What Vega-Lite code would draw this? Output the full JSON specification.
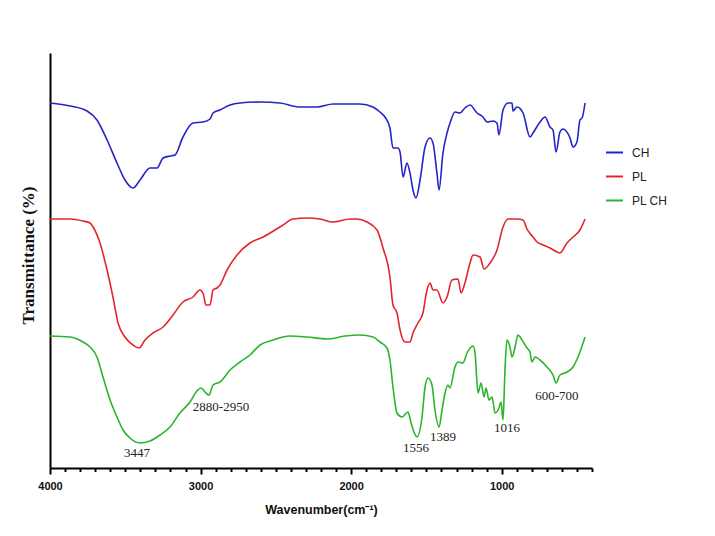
{
  "$schema": "https://vega.github.io/schema/vega-lite/v6.json",
  "width": 542,
  "height": 415,
  "autosize": "none",
  "padding": {"left": 50, "top": 53, "right": 123, "bottom": 68},
  "background": "white",
  "config": {"view": {"stroke": null}, "axis": {"labelOverlap": false}},
  "datasets": {
    "spectra": [
      {"series":"CH","wn":4000,"T":365},{"series":"CH","wn":3867,"T":362},{"series":"CH","wn":3754,"T":357},{"series":"CH","wn":3688,"T":348},{"series":"CH","wn":3621,"T":328},{"series":"CH","wn":3555,"T":305},{"series":"CH","wn":3502,"T":288},{"series":"CH","wn":3449,"T":280},{"series":"CH","wn":3402,"T":288},{"series":"CH","wn":3336,"T":300},{"series":"CH","wn":3289,"T":300},{"series":"CH","wn":3249,"T":310},{"series":"CH","wn":3203,"T":312},{"series":"CH","wn":3170,"T":313},{"series":"CH","wn":3117,"T":331},{"series":"CH","wn":3050,"T":345},{"series":"CH","wn":2984,"T":346},{"series":"CH","wn":2937,"T":349},{"series":"CH","wn":2917,"T":355},{"series":"CH","wn":2871,"T":358},{"series":"CH","wn":2804,"T":363},{"series":"CH","wn":2738,"T":365},{"series":"CH","wn":2605,"T":366},{"series":"CH","wn":2472,"T":365},{"series":"CH","wn":2340,"T":361},{"series":"CH","wn":2227,"T":361},{"series":"CH","wn":2120,"T":364},{"series":"CH","wn":2074,"T":364},{"series":"CH","wn":1941,"T":364},{"series":"CH","wn":1855,"T":361},{"series":"CH","wn":1808,"T":356},{"series":"CH","wn":1775,"T":351},{"series":"CH","wn":1742,"T":340},{"series":"CH","wn":1722,"T":320},{"series":"CH","wn":1689,"T":320},{"series":"CH","wn":1675,"T":316},{"series":"CH","wn":1655,"T":291},{"series":"CH","wn":1629,"T":305},{"series":"CH","wn":1609,"T":295},{"series":"CH","wn":1589,"T":278},{"series":"CH","wn":1569,"T":270},{"series":"CH","wn":1542,"T":288},{"series":"CH","wn":1509,"T":321},{"series":"CH","wn":1476,"T":330},{"series":"CH","wn":1456,"T":325},{"series":"CH","wn":1430,"T":295},{"series":"CH","wn":1416,"T":278},{"series":"CH","wn":1390,"T":315},{"series":"CH","wn":1363,"T":335},{"series":"CH","wn":1343,"T":345},{"series":"CH","wn":1310,"T":356},{"series":"CH","wn":1277,"T":355},{"series":"CH","wn":1244,"T":360},{"series":"CH","wn":1210,"T":363},{"series":"CH","wn":1164,"T":355},{"series":"CH","wn":1124,"T":351},{"series":"CH","wn":1097,"T":346},{"series":"CH","wn":1058,"T":347},{"series":"CH","wn":1031,"T":345},{"series":"CH","wn":1018,"T":333},{"series":"CH","wn":991,"T":358},{"series":"CH","wn":958,"T":365},{"series":"CH","wn":931,"T":365},{"series":"CH","wn":925,"T":357},{"series":"CH","wn":898,"T":361},{"series":"CH","wn":858,"T":355},{"series":"CH","wn":812,"T":331},{"series":"CH","wn":792,"T":335},{"series":"CH","wn":745,"T":346},{"series":"CH","wn":712,"T":351},{"series":"CH","wn":679,"T":341},{"series":"CH","wn":659,"T":338},{"series":"CH","wn":639,"T":316},{"series":"CH","wn":613,"T":336},{"series":"CH","wn":593,"T":339},{"series":"CH","wn":546,"T":330},{"series":"CH","wn":526,"T":321},{"series":"CH","wn":500,"T":326},{"series":"CH","wn":480,"T":348},{"series":"CH","wn":466,"T":350},{"series":"CH","wn":446,"T":365},
      {"series":"PL","wn":4000,"T":249},{"series":"PL","wn":3867,"T":249},{"series":"PL","wn":3781,"T":247},{"series":"PL","wn":3734,"T":245},{"series":"PL","wn":3714,"T":241},{"series":"PL","wn":3668,"T":225},{"series":"PL","wn":3621,"T":198},{"series":"PL","wn":3582,"T":171},{"series":"PL","wn":3548,"T":145},{"series":"PL","wn":3502,"T":131},{"series":"PL","wn":3449,"T":123},{"series":"PL","wn":3409,"T":120},{"series":"PL","wn":3369,"T":128},{"series":"PL","wn":3316,"T":135},{"series":"PL","wn":3249,"T":141},{"series":"PL","wn":3183,"T":153},{"series":"PL","wn":3117,"T":166},{"series":"PL","wn":3050,"T":171},{"series":"PL","wn":3004,"T":178},{"series":"PL","wn":2984,"T":175},{"series":"PL","wn":2964,"T":163},{"series":"PL","wn":2937,"T":163},{"series":"PL","wn":2917,"T":178},{"series":"PL","wn":2891,"T":180},{"series":"PL","wn":2871,"T":183},{"series":"PL","wn":2824,"T":198},{"series":"PL","wn":2758,"T":213},{"series":"PL","wn":2672,"T":225},{"series":"PL","wn":2585,"T":231},{"series":"PL","wn":2452,"T":243},{"series":"PL","wn":2386,"T":249},{"series":"PL","wn":2293,"T":250},{"series":"PL","wn":2207,"T":249},{"series":"PL","wn":2120,"T":246},{"series":"PL","wn":2007,"T":249},{"series":"PL","wn":1961,"T":249},{"series":"PL","wn":1894,"T":246},{"series":"PL","wn":1828,"T":238},{"series":"PL","wn":1788,"T":220},{"series":"PL","wn":1742,"T":191},{"series":"PL","wn":1722,"T":163},{"series":"PL","wn":1695,"T":155},{"series":"PL","wn":1675,"T":138},{"series":"PL","wn":1642,"T":126},{"series":"PL","wn":1609,"T":126},{"series":"PL","wn":1589,"T":135},{"series":"PL","wn":1556,"T":145},{"series":"PL","wn":1523,"T":155},{"series":"PL","wn":1496,"T":178},{"series":"PL","wn":1476,"T":185},{"series":"PL","wn":1456,"T":178},{"series":"PL","wn":1430,"T":178},{"series":"PL","wn":1390,"T":165},{"series":"PL","wn":1363,"T":171},{"series":"PL","wn":1330,"T":188},{"series":"PL","wn":1290,"T":189},{"series":"PL","wn":1270,"T":175},{"series":"PL","wn":1244,"T":185},{"series":"PL","wn":1210,"T":205},{"series":"PL","wn":1190,"T":213},{"series":"PL","wn":1144,"T":211},{"series":"PL","wn":1117,"T":199},{"series":"PL","wn":1077,"T":205},{"series":"PL","wn":1031,"T":218},{"series":"PL","wn":991,"T":241},{"series":"PL","wn":958,"T":249},{"series":"PL","wn":898,"T":249},{"series":"PL","wn":858,"T":248},{"series":"PL","wn":832,"T":239},{"series":"PL","wn":792,"T":231},{"series":"PL","wn":765,"T":226},{"series":"PL","wn":725,"T":223},{"series":"PL","wn":679,"T":220},{"series":"PL","wn":633,"T":216},{"series":"PL","wn":613,"T":215},{"series":"PL","wn":566,"T":225},{"series":"PL","wn":526,"T":231},{"series":"PL","wn":480,"T":238},{"series":"PL","wn":446,"T":249},
      {"series":"PL CH","wn":4000,"T":132},{"series":"PL CH","wn":3867,"T":131},{"series":"PL CH","wn":3781,"T":126},{"series":"PL CH","wn":3734,"T":121},{"series":"PL CH","wn":3688,"T":111},{"series":"PL CH","wn":3648,"T":91},{"series":"PL CH","wn":3601,"T":68},{"series":"PL CH","wn":3555,"T":51},{"series":"PL CH","wn":3515,"T":38},{"series":"PL CH","wn":3469,"T":30},{"series":"PL CH","wn":3402,"T":25},{"series":"PL CH","wn":3336,"T":27},{"series":"PL CH","wn":3269,"T":33},{"series":"PL CH","wn":3203,"T":41},{"series":"PL CH","wn":3137,"T":55},{"series":"PL CH","wn":3070,"T":66},{"series":"PL CH","wn":3024,"T":77},{"series":"PL CH","wn":2997,"T":80},{"series":"PL CH","wn":2970,"T":76},{"series":"PL CH","wn":2944,"T":73},{"series":"PL CH","wn":2917,"T":83},{"series":"PL CH","wn":2871,"T":86},{"series":"PL CH","wn":2804,"T":98},{"series":"PL CH","wn":2738,"T":106},{"series":"PL CH","wn":2672,"T":113},{"series":"PL CH","wn":2605,"T":123},{"series":"PL CH","wn":2519,"T":128},{"series":"PL CH","wn":2406,"T":132},{"series":"PL CH","wn":2293,"T":131},{"series":"PL CH","wn":2160,"T":129},{"series":"PL CH","wn":2041,"T":132},{"series":"PL CH","wn":1941,"T":133},{"series":"PL CH","wn":1855,"T":131},{"series":"PL CH","wn":1808,"T":126},{"series":"PL CH","wn":1762,"T":120},{"series":"PL CH","wn":1742,"T":108},{"series":"PL CH","wn":1722,"T":81},{"series":"PL CH","wn":1695,"T":55},{"series":"PL CH","wn":1662,"T":51},{"series":"PL CH","wn":1622,"T":56},{"series":"PL CH","wn":1602,"T":45},{"series":"PL CH","wn":1562,"T":31},{"series":"PL CH","wn":1529,"T":51},{"series":"PL CH","wn":1509,"T":81},{"series":"PL CH","wn":1489,"T":90},{"series":"PL CH","wn":1463,"T":83},{"series":"PL CH","wn":1443,"T":58},{"series":"PL CH","wn":1416,"T":41},{"series":"PL CH","wn":1396,"T":58},{"series":"PL CH","wn":1376,"T":75},{"series":"PL CH","wn":1357,"T":83},{"series":"PL CH","wn":1343,"T":80},{"series":"PL CH","wn":1310,"T":101},{"series":"PL CH","wn":1290,"T":106},{"series":"PL CH","wn":1257,"T":105},{"series":"PL CH","wn":1230,"T":115},{"series":"PL CH","wn":1190,"T":122},{"series":"PL CH","wn":1177,"T":115},{"series":"PL CH","wn":1157,"T":75},{"series":"PL CH","wn":1137,"T":85},{"series":"PL CH","wn":1117,"T":71},{"series":"PL CH","wn":1104,"T":80},{"series":"PL CH","wn":1084,"T":68},{"series":"PL CH","wn":1064,"T":71},{"series":"PL CH","wn":1044,"T":55},{"series":"PL CH","wn":1018,"T":60},{"series":"PL CH","wn":1004,"T":66},{"series":"PL CH","wn":991,"T":48},{"series":"PL CH","wn":978,"T":98},{"series":"PL CH","wn":965,"T":128},{"series":"PL CH","wn":945,"T":121},{"series":"PL CH","wn":931,"T":111},{"series":"PL CH","wn":911,"T":121},{"series":"PL CH","wn":892,"T":133},{"series":"PL CH","wn":865,"T":128},{"series":"PL CH","wn":832,"T":120},{"series":"PL CH","wn":812,"T":116},{"series":"PL CH","wn":799,"T":106},{"series":"PL CH","wn":779,"T":111},{"series":"PL CH","wn":745,"T":108},{"series":"PL CH","wn":699,"T":101},{"series":"PL CH","wn":659,"T":93},{"series":"PL CH","wn":639,"T":85},{"series":"PL CH","wn":613,"T":93},{"series":"PL CH","wn":566,"T":96},{"series":"PL CH","wn":526,"T":101},{"series":"PL CH","wn":493,"T":111},{"series":"PL CH","wn":446,"T":131}
    ],
    "labels": [
      {"wn":3422,"T":15,"text":"3447"},
      {"wn":2864,"T":61,"text":"2880-2950"},
      {"wn":1569,"T":20,"text":"1556"},
      {"wn":1390,"T":31,"text":"1389"},
      {"wn":965,"T":40,"text":"1016"},
      {"wn":633,"T":72,"text":"600-700"}
    ]
  },
  "encoding": {
    "x": {
      "field": "wn", "type": "quantitative",
      "scale": {"domain": [4000, 400], "nice": false, "zero": false},
      "axis": {
        "values": [4000,3900,3800,3700,3600,3500,3400,3300,3200,3100,3000,2900,2800,2700,2600,2500,2400,2300,2200,2100,2000,1900,1800,1700,1600,1500,1400,1300,1200,1100,1000,900,800,700,600,500,400],
        "labelExpr": "datum.value % 1000 === 0 ? format(datum.value, 'd') : ''",
        "grid": false,
        "domainColor": "#000000", "domainWidth": 2,
        "tickColor": "#000000", "tickWidth": 2,
        "tickSize": {"expr": "datum.value % 1000 === 0 ? 6 : 3.5"},
        "labelFont": "Liberation Sans", "labelFontSize": 11, "labelFontWeight": "bold", "labelColor": "#111111",
        "labelPadding": 6, "labelFlush": false, "labelOverlap": false,
        "title": "Wavenumber(cm⁻¹)",
        "titleFont": "Liberation Sans", "titleFontSize": 12.5, "titleFontWeight": "bold", "titleColor": "#111111",
        "titleX": 271, "titleY": 41, "titleBaseline": "middle", "titleAlign": "center"
      }
    },
    "y": {
      "field": "T", "type": "quantitative",
      "scale": {"domain": [0, 415], "nice": false, "zero": false},
      "axis": {
        "ticks": false, "labels": false, "grid": false,
        "domainColor": "#000000", "domainWidth": 2,
        "title": "Transmittance (%)",
        "titleFont": "Liberation Serif", "titleFontSize": 17, "titleFontWeight": "bold", "titleColor": "#111111",
        "titleAngle": -90, "titleX": -22, "titleY": 202, "titleBaseline": "middle", "titleAlign": "center"
      }
    }
  },
  "layer": [
    {
      "data": {"name": "spectra"},
      "mark": {"type": "line", "strokeWidth": 1.6, "interpolate": "monotone", "clip": true},
      "encoding": {
        "color": {
          "field": "series", "type": "nominal",
          "scale": {"domain": ["CH", "PL", "PL CH"], "range": ["#2424c8", "#e3262b", "#2ab52a"]},
          "legend": {
            "title": null, "orient": "none", "legendX": 555, "legendY": 90,
            "symbolType": "stroke", "symbolSize": 289, "symbolStrokeWidth": 2,
            "labelFont": "Liberation Sans", "labelFontSize": 12, "labelColor": "#222222",
            "rowPadding": 8, "padding": 0, "labelOffset": 8
          }
        }
      }
    },
    {
      "data": {"name": "labels"},
      "mark": {"type": "text", "font": "Liberation Serif", "fontSize": 13, "color": "#222222", "align": "center", "baseline": "middle"},
      "encoding": {
        "text": {"field": "text"}
      }
    }
  ]
}
